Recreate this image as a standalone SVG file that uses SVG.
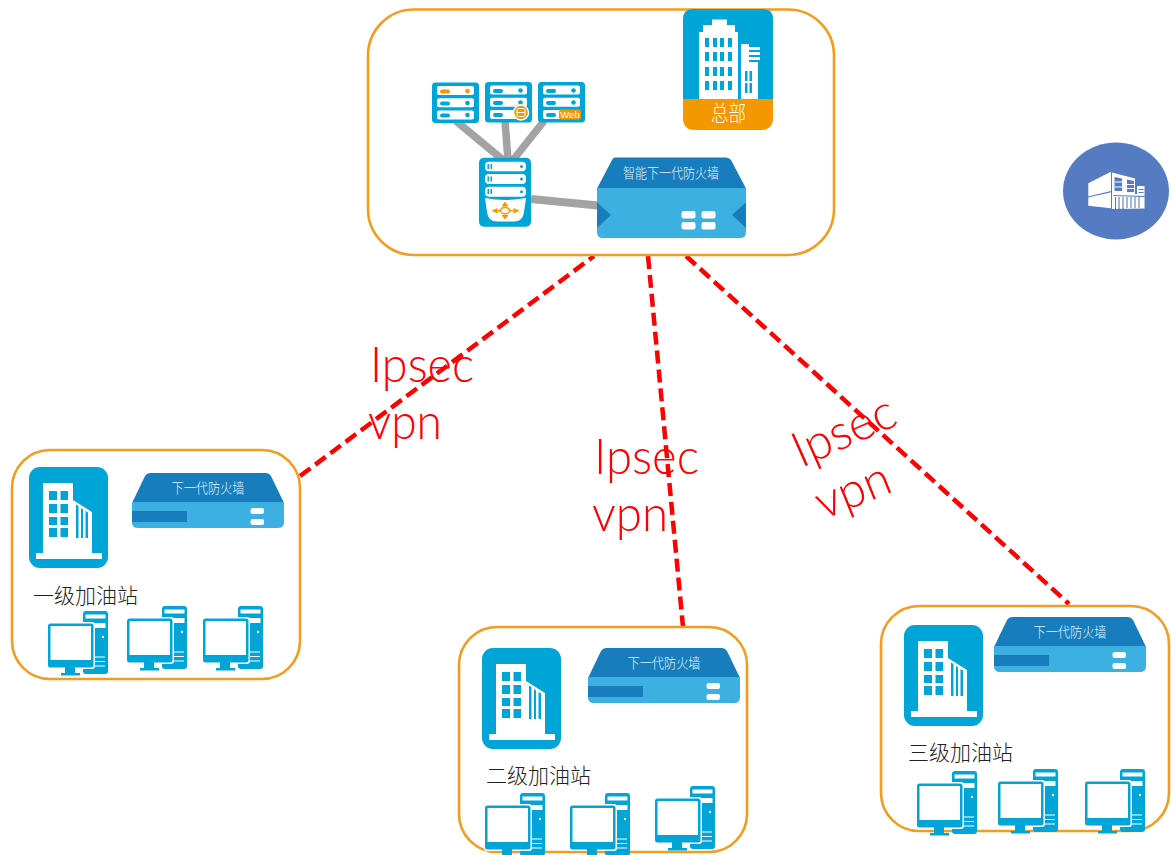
<svg xmlns="http://www.w3.org/2000/svg" width="1171" height="855" viewBox="0 0 1171 855">
<style>
.frame{fill:#fff;stroke:#f39c1f;stroke-width:2.6}
.b{fill:#00a5d8}.w{fill:#fff}.o{fill:#f39800}.d{fill:#177dbc}.l{fill:#3cb0e0}
.red{stroke:#f00;stroke-width:4.500;stroke-dasharray:13 6;fill:none}
.gray{stroke:#a3a3a3;fill:none}
.vt{font-family:"Lato","Open Sans",sans-serif;font-weight:300;font-size:49px;fill:#f00}
.cn{font-family:"Noto Sans CJK SC",sans-serif}
.lab{font-size:21px;fill:#222;font-weight:300}
.fw{font-size:14px;fill:#e2f3fb;font-weight:300}
</style>
<defs>
<g id="pc">
<rect class="b" x="35" y="0" width="25" height="63" rx="3"/>
<rect class="w" x="37.500" y="3.500" width="20" height="4"/>
<rect class="w" x="37.500" y="12" width="20" height="5"/>
<circle class="w" cx="55" cy="26" r="1.200"/>
<rect class="w" x="46" y="45.500" width="11" height="1"/><rect class="w" x="46" y="50" width="11" height="1"/><rect class="w" x="46" y="54.500" width="11" height="1"/>
<rect class="w" x="-1" y="11" width="48" height="47" rx="3"/>
<rect class="b" x="0" y="12.500" width="45.500" height="44" rx="2.500"/>
<rect class="w" x="2.500" y="15" width="40.500" height="34"/>
<rect class="b" x="17" y="56" width="10" height="7"/>
<rect class="b" x="13" y="62" width="19" height="2.500"/>
</g>
<g id="site">
<rect class="b" width="79" height="101" rx="11"/>
<path class="w" d="M14 16H44V33L63 45V86H73V92H7V86H14Z"/>
<path class="b" d="M20 24h8v9h-8zM31.500 24h7.500v9h-7.500zM20 37h8v9h-8zM31.500 37h7.500v9h-7.500zM20 50h8v8h-8zM31.500 50h7.500v8h-7.500zM20 61h8v9h-8zM31.500 61h7.500v9h-7.500zM47 37.500l2.500 1.500V71H47zM52 41l2 1.500V71H52zM56.500 44l2.500 1.500V71H56.500z"/>
</g>
<g id="fw">
<path class="d" d="M18 0H134Q137 0 139 3L152 30H0L13 3Q15 0 18 0Z"/>
<path class="l" d="M0 29H152V49Q152 55 146 55H6Q0 55 0 49Z"/>
<rect class="d" x="0" y="38" width="55" height="11"/>
<rect class="w" x="118.500" y="35" width="13.500" height="6" rx="2"/>
<rect class="w" x="118.500" y="46" width="13.500" height="6" rx="2"/>
</g>
<g id="srv">
<rect class="b" width="47" height="40.500" rx="3.500"/>
<rect class="w" x="5" y="3.500" width="37" height="9" rx="2"/>
<rect class="w" x="5" y="15.700" width="37" height="9" rx="2"/>
<rect class="w" x="5" y="28" width="37" height="9" rx="2"/>
</g>
</defs>

<g id="connectors">
<path class="red" d="M300 476L594 256"/>
<path class="red" d="M648 256L683 627"/>
<path class="red" d="M686 256L1069 604"/>
</g>

<g id="hq">
<rect class="frame" x="368" y="9.500" width="466" height="245.500" rx="46" fill-opacity="0"/>
<g class="gray">
<path stroke-width="7.500" d="M456 121L503 160M505 121L508 160M544 121L513 160"/>
<path stroke-width="8" d="M531 199L598 205.500"/>
</g>
<g id="server-1">
<use href="#srv" x="432" y="82.500"/>
<rect class="o" x="440" y="89.500" width="10" height="4" rx="2"/><circle class="o" cx="467.500" cy="91" r="2.300"/>
<rect class="b" x="440" y="101.500" width="10" height="4" rx="2"/><circle class="b" cx="467.500" cy="103" r="2.300"/>
<rect class="b" x="440" y="113.500" width="10" height="4" rx="2"/><circle class="b" cx="467.500" cy="115" r="2.300"/>
</g>
<g id="server-2">
<use href="#srv" x="485" y="82"/>
<rect class="b" x="493" y="89" width="10" height="4" rx="2"/><circle class="b" cx="520.500" cy="90.500" r="2.300"/>
<rect class="b" x="493" y="101" width="10" height="4" rx="2"/><circle class="b" cx="520.500" cy="102.500" r="2.300"/>
<rect class="b" x="493" y="113" width="10" height="4" rx="2"/>
<circle class="o" cx="521" cy="112.500" r="7.500" stroke="#fff" stroke-width="1.500"/>
<rect x="517" y="108.500" width="8" height="8" rx="1.500" fill="none" stroke="#fff" stroke-width="1"/><path d="M517 112.500h8" stroke="#fff" stroke-width="1"/>
</g>
<g id="server-3">
<use href="#srv" x="538" y="82"/>
<rect class="b" x="546" y="89" width="10" height="4" rx="2"/><circle class="b" cx="573.500" cy="90.500" r="2.300"/>
<rect class="b" x="546" y="101" width="10" height="4" rx="2"/><circle class="b" cx="573.500" cy="102.500" r="2.300"/>
<rect class="b" x="546" y="113" width="10" height="4" rx="2"/>
<rect class="o" x="559" y="109.500" width="22" height="10" rx="2"/>
<text x="570" y="118" font-family="Liberation Sans,sans-serif" font-size="9.500" fill="#fff" text-anchor="middle">Web</text>
</g>
<g id="router">
<rect class="b" x="479" y="157.700" width="52" height="69" rx="5"/>
<rect class="w" x="485" y="161.700" width="41" height="9.500" rx="4"/>
<rect class="w" x="485" y="174" width="41" height="10" rx="4"/>
<rect class="w" x="485" y="186.700" width="41" height="10" rx="4"/>
<path class="b" d="M487.500 164h1.500v5h-1.500zM490.500 164h1.500v5h-1.500zM487.500 176.500h1.500v5h-1.500zM490.500 176.500h1.500v5h-1.500zM487.500 189h1.500v5h-1.500zM490.500 189h1.500v5h-1.500z"/>
<circle class="b" cx="521.500" cy="166.500" r="1.500"/><circle class="b" cx="521.500" cy="179" r="1.500"/><circle class="b" cx="521.500" cy="191.700" r="1.500"/>
<path class="w" d="M485 198Q505 202 526 198L524 212Q523 221.500 514 221.500H497Q488 221.500 487 212Z"/>
<path class="o" d="M505 201.500l3.500 5h-7zM505 219.500l3.500-4.500h-7zM491.500 210.700l6-2.800v5.600zM519.500 210.700l-6-2.800v5.600zM497 210h3v1.400h-3zM510 210h3v1.400h-3z"/>
<ellipse cx="505" cy="210.700" rx="4.500" ry="3.200" fill="#fff" stroke="#f39800" stroke-width="1.500"/>
</g>
<g id="hq-firewall">
<path class="d" d="M615 157.500H726Q729 157.500 731 160L746 188.500H597L612 160Q613 157.500 615 157.500Z"/>
<path class="l" d="M597 188H746V232Q746 238 740 238H603Q597 238 597 232Z"/>
<path class="d" d="M597 202.500L611 215L597 228ZM746 202.500L732 215L746 228Z"/>
<rect class="w" x="681.500" y="211" width="14" height="7.500" rx="2"/><rect class="w" x="701.500" y="211" width="14" height="7.500" rx="2"/>
<rect class="w" x="681.500" y="222" width="14" height="7.500" rx="2"/><rect class="w" x="701.500" y="222" width="14" height="7.500" rx="2"/>
<text class="cn fw" x="623" y="178" textLength="96" lengthAdjust="spacingAndGlyphs">智能下一代防火墙</text>
</g>
<g id="hq-building">
<path class="b" d="M683 99V19Q683 9 693 9H763Q773 9 773 19V99Z"/>
<path class="o" d="M683 99H773V118Q773 130 761 130H695Q683 130 683 118Z"/>
<path class="w" d="M699 99V32H703V25H712V19.500H727V25H735V32H738V99Z"/>
<path class="b" d="M705 38h4v9h-4zM713 38h4v9h-4zM720 38h4v9h-4zM728 38h4v9h-4zM705 52h4v9h-4zM713 52h4v9h-4zM720 52h4v9h-4zM728 52h4v9h-4zM705 67h4v9h-4zM713 67h4v9h-4zM720 67h4v9h-4zM728 67h4v9h-4zM705 81h4v9h-4zM713 81h4v9h-4zM720 81h4v9h-4zM728 81h4v9h-4z"/>
<path class="w" d="M741 99V44H749V47H760V50H749V52H760V55H749V57H760V60H749V62H758V99Z"/>
<path class="b" d="M745 71h2.500v10H745zM749.500 71h2.500v10H749.500zM745 83h2.500v10H745zM749.500 83h2.500v10H749.500z"/>
<text class="cn" x="711" y="121" textLength="35" lengthAdjust="spacingAndGlyphs" font-size="22" font-weight="300" fill="#fff">总部</text>
</g>
</g>

<g id="branch-1">
<rect class="frame" x="12" y="450" width="288" height="229" rx="38"/>
<use href="#site" x="29" y="467"/>
<use href="#fw" x="132" y="473"/>
<text class="cn fw" x="171.500" y="493" textLength="73" lengthAdjust="spacingAndGlyphs">下一代防火墙</text>
<text class="cn lab" x="33" y="603">一级加油站</text>
<use href="#pc" x="48" y="611"/><use href="#pc" x="127" y="606"/><use href="#pc" x="203" y="606"/>
</g>

<g id="branch-2">
<rect class="frame" x="459" y="627" width="288" height="225" rx="38"/>
<use href="#site" x="482" y="648"/>
<use href="#fw" x="588" y="648"/>
<text class="cn fw" x="627.500" y="668" textLength="73" lengthAdjust="spacingAndGlyphs">下一代防火墙</text>
<text class="cn lab" x="486" y="783">二级加油站</text>
<use href="#pc" x="485" y="793"/><use href="#pc" x="570" y="793"/><use href="#pc" x="655" y="786"/>
</g>

<g id="branch-3">
<rect class="frame" x="881" y="606" width="288" height="225" rx="38"/>
<use href="#site" x="904" y="625"/>
<use href="#fw" x="994" y="617"/>
<text class="cn fw" x="1033.500" y="637" textLength="73" lengthAdjust="spacingAndGlyphs">下一代防火墙</text>
<text class="cn lab" x="908" y="760">三级加油站</text>
<use href="#pc" x="917" y="771"/><use href="#pc" x="998" y="769"/><use href="#pc" x="1085" y="769"/>
</g>

<g id="site-icon">
<ellipse cx="1116" cy="191" rx="53" ry="48.500" fill="#557cc2"/>
<path class="w" d="M1088.300 183.300L1111 171.700V208.300L1088.300 205.700Z"/>
<path d="M1088 197L1111 191.700" stroke="#557cc2" stroke-width="1.200"/>
<path class="w" d="M1112 172.500L1135 178.500V194H1137V186H1144.500V208.500L1112 209Z"/>
<path d="M1114.500 177l7.500 1.500V191h-7.500zM1127 179.500l7 1.500V192h-7z" fill="#557cc2"/>
<path d="M1114.500 182h7.500M1127 184.500h7M1114.500 187h7.500M1127 188.500h7" stroke="#fff" stroke-width="1"/>
<path d="M1138.500 189.500h5M1138.500 192.500h5" stroke="#557cc2" stroke-width="1"/>
<path d="M1113.500 195.500L1144.500 196.500M1115.500 197v12M1119 197v12M1123 197v12M1127 197v11M1131 197v11M1135 197v11M1139 197v11" stroke="#557cc2" stroke-width="1.100" fill="none"/>
</g>

<g id="vpn-labels">
<text class="vt" x="370" y="382" textLength="104" lengthAdjust="spacingAndGlyphs">Ipsec</text>
<text class="vt" x="368" y="439" textLength="74" lengthAdjust="spacingAndGlyphs">vpn</text>
<text class="vt" x="594" y="474" textLength="105" lengthAdjust="spacingAndGlyphs">Ipsec</text>
<text class="vt" x="592" y="531" textLength="76" lengthAdjust="spacingAndGlyphs">vpn</text>
<text class="vt" transform="translate(801 468) rotate(-24)" textLength="108" lengthAdjust="spacingAndGlyphs">Ipsec</text>
<text class="vt" transform="translate(823 520) rotate(-22)" textLength="77" lengthAdjust="spacingAndGlyphs">vpn</text>
</g>
</svg>
